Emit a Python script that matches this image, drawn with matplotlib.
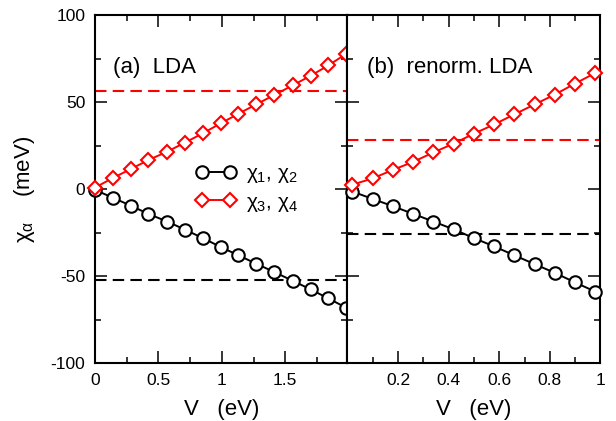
import matplotlib

matplotlib.use("Agg")
import matplotlib.pyplot as plt
from matplotlib.ticker import FixedLocator, MultipleLocator

plt.rcParams["font.family"] = ["Liberation Sans", "DejaVu Sans"]
plt.rcParams["mathtext.fontset"] = "custom"
plt.rcParams["mathtext.rm"] = "Liberation Sans"
plt.rcParams["mathtext.it"] = "Liberation Sans"

# (a) LDA
V_A = [0.0, 0.14, 0.28, 0.42, 0.57, 0.71, 0.85, 0.99, 1.13, 1.27, 1.41, 1.56, 1.70, 1.84, 1.98]
CHI12_A = [-0.5, -5.0, -9.5, -14.3, -18.7, -23.4, -28.2, -33.3, -38.1, -42.9, -47.6, -52.8, -57.7, -62.9, -68.2]
CHI34_A = [0.8, 6.3, 11.4, 16.6, 21.5, 26.7, 32.0, 37.7, 43.2, 48.6, 53.9, 59.6, 65.1, 71.0, 77.7]
REF12_A = -52.4
REF34_A = 56.6

# (b) renorm. LDA
V_B = [0.02, 0.10, 0.18, 0.26, 0.34, 0.42, 0.50, 0.58, 0.66, 0.74, 0.82, 0.90, 0.98]
CHI12_B = [-1.5, -5.7, -9.9, -14.3, -18.7, -23.2, -28.2, -33.0, -38.1, -43.2, -48.2, -53.7, -59.0]
CHI34_B = [2.5, 6.1, 11.0, 15.6, 21.0, 26.1, 31.8, 37.1, 42.9, 48.6, 54.3, 60.6, 66.7]
REF12_B = -26.1
REF34_B = 28.4

FS = 16

fig = plt.figure(figsize=(6.16, 4.21), dpi=100)
ax_a = fig.add_axes([95 / 616, 58 / 421, 252.4 / 616, 348 / 421])
ax_b = fig.add_axes([347.4 / 616, 58 / 421, 253 / 616, 348 / 421])


def draw_panel(ax, v, chi12, chi34, ref12, ref34, xmax):
    ax.axhline(ref34, color="red", lw=1.5, ls=(0, (5.5, 3)), zorder=1)
    ax.axhline(ref12, color="black", lw=1.5, ls=(0, (5.5, 3)), zorder=1)
    ax.plot(v, chi12, color="black", lw=1.4, marker="o", ms=9, mfc="white",
            mec="black", mew=1.5, label=r"$\chi_1$, $\chi_2$", zorder=3,
            clip_on=False)
    ax.plot(v, chi34, color="red", lw=1.4, marker="D", ms=6.8, mfc="white",
            mec="red", mew=1.5, label=r"$\chi_3$, $\chi_4$", zorder=3,
            clip_on=False)
    ax.set_xlim(0, xmax)
    ax.set_ylim(-100, 100)
    ax.yaxis.set_major_locator(MultipleLocator(50))
    ax.yaxis.set_minor_locator(MultipleLocator(25))
    ax.tick_params(which="both", direction="in", top=True, right=True,
                   width=1.1, labelsize=12.5, pad=7)
    ax.tick_params(which="major", length=8.5)
    ax.tick_params(which="minor", length=4.3)
    for sp in ax.spines.values():
        sp.set_linewidth(1.5)
    ax.set_xlabel("V   (eV)", fontsize=FS, labelpad=8)


draw_panel(ax_a, V_A, CHI12_A, CHI34_A, REF12_A, REF34_A, 1.99)
ax_a.xaxis.set_major_locator(FixedLocator([0, 0.5, 1, 1.5]))
ax_a.xaxis.set_minor_locator(FixedLocator([0.25, 0.75, 1.25, 1.75]))
ax_a.set_xticklabels(["0", "0.5", "1", "1.5"])
ax_a.set_yticks([-100, -50, 0, 50, 100])
ax_a.set_yticklabels(["-100", "-50", "0", "50", "100"])
ax_a.set_ylabel(r"$\chi_\alpha$    (meV)", fontsize=FS, labelpad=10)
ax_a.text(0.071, 0.833, "(a)  LDA", transform=ax_a.transAxes, fontsize=FS,
          va="baseline", ha="left")
ax_a.legend(loc="center left", bbox_to_anchor=(0.40, 0.50), frameon=False,
            fontsize=15, handlelength=1.95, handletextpad=0.45, numpoints=2,
            borderpad=0, borderaxespad=0, labelspacing=0.35)

draw_panel(ax_b, V_B, CHI12_B, CHI34_B, REF12_B, REF34_B, 1.0)
ax_b.xaxis.set_major_locator(FixedLocator([0, 0.2, 0.4, 0.6, 0.8, 1.0]))
ax_b.xaxis.set_minor_locator(FixedLocator([0.1, 0.3, 0.5, 0.7, 0.9]))
ax_b.set_xticklabels(["", "0.2", "0.4", "0.6", "0.8", "1"])
ax_b.set_yticklabels([])
ax_b.text(0.076, 0.833, "(b)  renorm. LDA", transform=ax_b.transAxes,
          fontsize=FS, va="baseline", ha="left")

fig.savefig("out.png", dpi=100)
